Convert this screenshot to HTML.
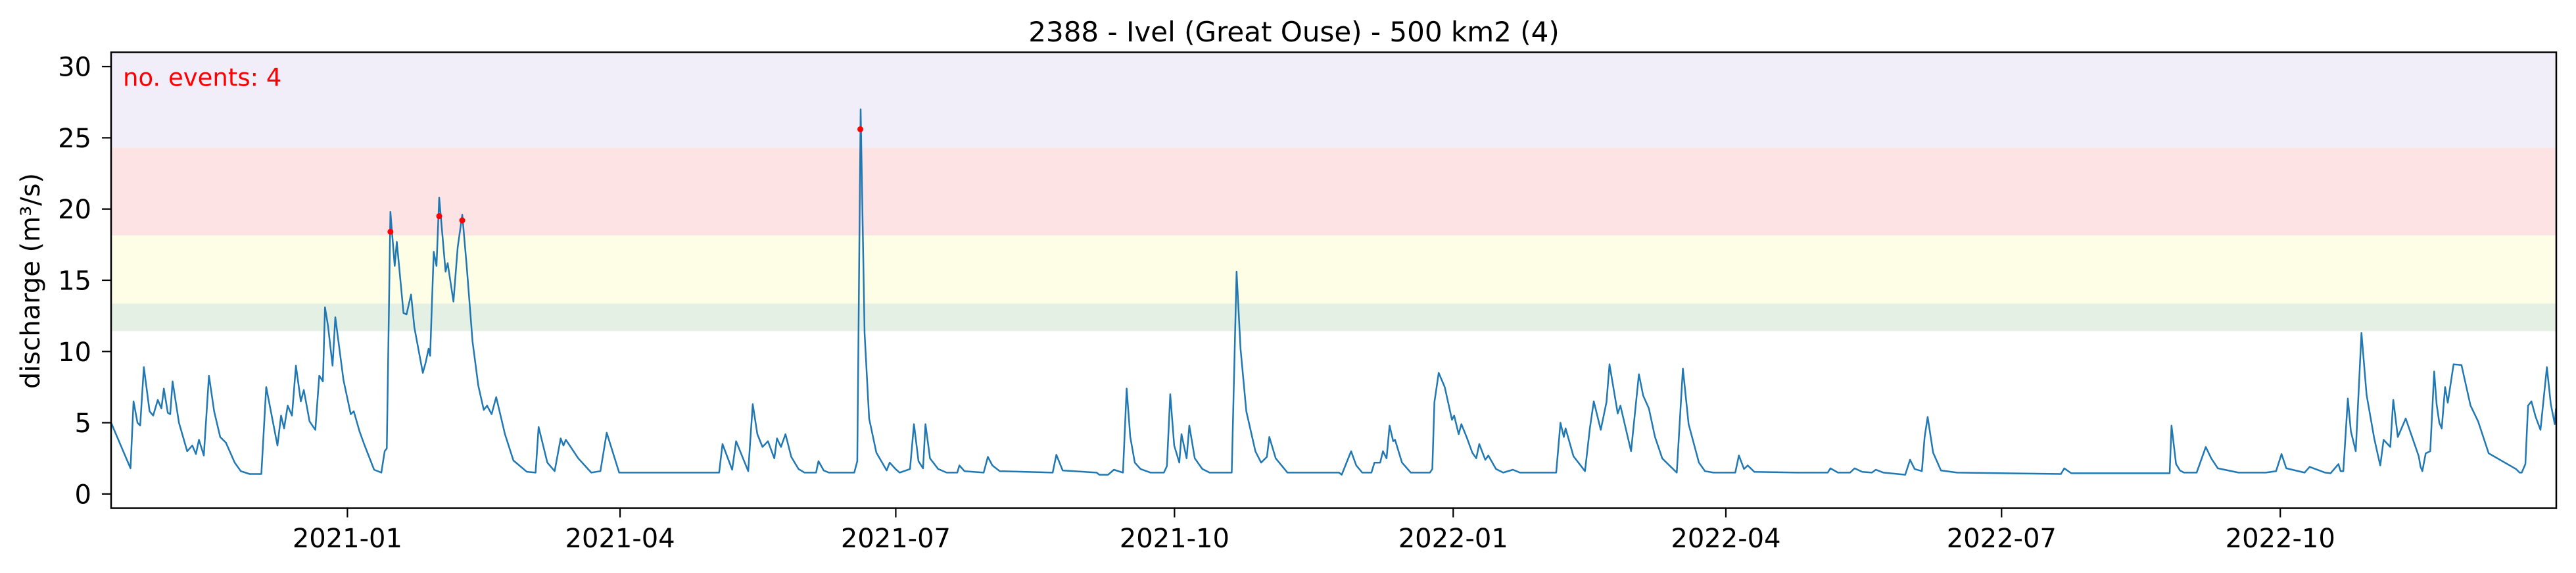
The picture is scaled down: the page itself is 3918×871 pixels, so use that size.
<!DOCTYPE html>
<html><head><meta charset="utf-8"><title>2388 - Ivel discharge</title>
<style>
html,body{margin:0;padding:0;background:#fff;}
svg{display:block;font-family:"DejaVu Sans","Liberation Sans",sans-serif;}
</style></head>
<body>
<svg id="chart" width="3918" height="871" viewBox="0 0 3918 871" xmlns="http://www.w3.org/2000/svg">
<text x="1968" y="63" font-size="42" text-anchor="middle" fill="#000">2388 - Ivel (Great Ouse) - 500 km2 (4)</text>
<g id="bands"></g>
<g id="series"></g>
<g id="events"></g>
<rect x="169" y="79.5" width="3719" height="693" fill="none" stroke="#000" stroke-width="2.5"/>
<g id="yaxis"></g>
<g id="xaxis"></g>
<text x="187" y="130.5" font-size="37" fill="#ff0000">no. events: 4</text>
<text transform="translate(60,427) rotate(-90)" font-size="40" text-anchor="middle" fill="#000">discharge (m³/s)</text>
</svg>
<script>
// Days since 2020-10-15 and discharge values (m3/s)
const days = [0,6.4,7.4,8.7,9.6,10.8,12.7,13.9,15.4,16.6,17.4,18.7,19.5,20.3,22.4,25.1,26.8,28,29,30.6,32.3,34,36,37.9,40.8,42.8,45.7,49.6,51.2,54.9,56.1,57.1,58.3,59.7,61,62.6,63.6,65.5,67.4,68.7,69.9,70.6,71.6,73.1,74,76.7,79.1,80.1,82,83.5,86.8,89.2,90.3,91,92.2,93.6,94.3,96.5,97.5,99,100.1,102.9,103.8,104.8,105.3,106.5,107.4,108.3,110.4,111.1,113,114.4,115.9,117.4,119.3,121.2,123,124.1,125.6,127.1,130,132.8,137.2,140.1,141.1,144,146.4,148.4,149.3,150.1,151.7,154.2,158.5,161.5,163.6,167.7,200.7,201.8,205,206.3,210.3,211.8,213.3,215,216.8,218.9,219.8,221.1,222.6,224.5,226.9,228.9,232.7,233.5,235.2,236.9,245.3,246.3,247.4,248.7,250.2,252.6,256,257,258.9,260.3,263.7,265,266.5,268,268.8,270.3,273,275.8,279.3,280,281.7,288,289.4,290.9,293.3,310.8,312,314.1,325.3,326.2,329.1,331,334,335.2,336.4,337.9,339.8,343.1,347.5,348.5,349.6,350.9,352.6,353.3,355,355.9,357.7,360.2,362.6,369.9,371.5,372.8,374.7,377.7,379.6,381.5,382.3,384.4,388.3,405.3,406.2,409.3,411,413,416,417,418.9,419.8,421,422,423.2,423.8,426.1,429,435.3,436.1,436.8,438.2,440.2,442.6,443.3,444.8,445.7,447.4,449.3,450.6,451.6,453.6,454.6,457.1,459.5,462.7,465,477,478.4,479.5,480.1,482.7,486.5,488.1,489.4,491.7,493.6,494.6,497.3,498.2,501.7,504.3,505.7,507.6,509.6,512,513.4,516.8,518.8,520.7,524.1,526.1,528.9,536.1,537.3,539,540.2,542.4,556.5,566.6,567.5,570,574,575.5,578,581.2,582.5,585,592.2,593.8,595.3,597.7,598.6,599.6,601.4,604,609.3,643.6,644.7,647,679.5,680.1,681.6,682.9,684.2,688.4,691.4,693.2,695.4,702.2,711.2,714.6,716.4,718,724,725.7,730.8,732.6,735.2,735.9,736.8,738.3,739.3,740.9,742.8,744.5,747,748.3,749,750.1,752.3,753.3,754.8,757.4,759.5,761.7,762.3,762.9,764,765.5,766.8,767.6,768.5,769.3,770.4,771.3,773.2,775.8,778.8,781.3,784.8,793.8,795,795.7,796.9,797.8,798.9,800.3,801.9,804,805.3,806.6,807];
const values = [5.0,1.8,6.5,5.0,4.8,8.9,5.8,5.5,6.6,6.0,7.4,5.7,5.6,7.9,5.0,3.0,3.4,2.8,3.8,2.7,8.3,5.8,4.0,3.6,2.2,1.6,1.4,1.4,7.5,3.4,5.5,4.6,6.2,5.5,9.0,6.5,7.3,5.1,4.5,8.3,7.9,13.1,11.8,9.0,12.4,8.0,5.6,5.8,4.4,3.5,1.7,1.5,3.0,3.2,19.8,16.0,17.7,12.7,12.6,14.0,11.7,8.5,9.2,10.2,9.7,17.0,16.0,20.8,15.6,16.2,13.5,17.3,19.6,15.9,10.7,7.6,5.9,6.2,5.6,6.8,4.2,2.35,1.56,1.5,4.7,2.2,1.6,3.9,3.4,3.8,3.3,2.5,1.5,1.6,4.3,1.5,1.5,3.5,1.7,3.7,1.6,6.3,4.2,3.3,3.7,2.5,3.9,3.3,4.2,2.6,1.75,1.5,1.5,2.3,1.65,1.5,1.5,2.3,27.0,11.3,5.3,2.9,1.65,2.2,1.75,1.5,1.75,4.9,2.3,1.8,4.9,2.5,1.75,1.5,1.5,2.0,1.6,1.5,2.6,2.0,1.6,1.5,2.75,1.65,1.5,1.35,1.35,1.7,1.5,7.4,4.0,2.2,1.75,1.5,1.5,1.95,7.0,3.4,2.2,4.2,2.5,4.8,2.5,1.75,1.5,1.5,15.6,10.2,5.8,3.0,2.2,2.6,4.0,2.5,1.5,1.5,1.35,3.0,2.0,1.5,1.5,2.2,2.2,3.0,2.5,4.8,3.7,3.8,2.2,1.5,1.5,1.75,6.45,8.5,7.5,5.2,5.5,4.2,4.9,4.0,2.9,2.5,3.5,2.4,2.7,1.75,1.5,1.7,1.5,1.5,5.0,4.0,4.6,2.65,1.6,4.6,6.5,4.5,6.45,9.1,5.65,6.2,3.0,8.4,6.9,6.0,4.0,2.5,2.2,1.5,8.8,4.9,2.2,1.6,1.5,1.5,2.7,1.75,2.0,1.55,1.5,1.5,1.8,1.5,1.5,1.8,1.55,1.5,1.7,1.5,1.35,2.4,1.75,1.6,4.0,5.4,2.9,1.65,1.5,1.4,1.8,1.45,1.45,4.8,2.1,1.65,1.5,1.5,3.3,2.5,1.8,1.5,1.5,1.6,2.8,1.8,1.5,1.9,1.5,1.45,2.1,1.6,1.6,6.7,4.4,3.0,11.3,6.95,3.9,2.65,2.0,3.8,3.3,6.6,4.0,5.3,4.0,2.65,1.9,1.6,2.85,3.0,8.6,6.3,5.0,4.6,7.5,6.4,9.1,9.05,6.2,5.1,2.85,1.75,1.5,1.5,2.1,6.2,6.5,5.4,4.5,8.9,6.3,4.9,6.0,4.85,4.9];
const eventDays = [92.2,108.3,115.9,247.3];
const eventValues = [18.4,19.5,19.2,25.6];
const bandLows = [11.43,13.36,18.15,24.3];
const bandHighs = [13.36,18.15,24.3,31];
const bandColors = ['#e5f0e4','#fefee6','#fee3e5','#f1eef9'];
const bandNames = ['band-green','band-yellow','band-red','band-purple'];
const yTicks = [0,5,10,15,20,25,30];
const xTickDays = [78,168,259,351,443,533,624,716];
const xTickLabels = ['2021-01','2021-04','2021-07','2021-10','2022-01','2022-04','2022-07','2022-10'];

const L=169,R=3888,T=79.5,B=772.5;
const XMIN=0,XMAX=807.1,YMIN=-1.0,YMAX=31.0;
function sx(d){return L+(d-XMIN)/(XMAX-XMIN)*(R-L);}
function sy(v){return B-(v-YMIN)/(YMAX-YMIN)*(B-T);}
const NS='http://www.w3.org/2000/svg';
function mk(tag,attrs,parent){const e=document.createElementNS(NS,tag);for(const k in attrs)e.setAttribute(k,attrs[k]);parent.appendChild(e);return e;}

const bands=document.getElementById('bands');
for(let i=0;i<bandLows.length;i++){
  const top=Math.max(sy(bandHighs[i]),T);
  const r=mk('rect',{x:L,y:top,width:R-L,height:sy(bandLows[i])-top,fill:bandColors[i]},bands);
  
  
}

const series=document.getElementById('series');
let d='';
for(let i=0;i<days.length;i++){d+=(i?'L':'M')+sx(days[i]).toFixed(1)+','+sy(values[i]).toFixed(1);}
const p=mk('path',{d:d,fill:'none',stroke:'#1f77b4','stroke-width':2.5,'stroke-linejoin':'round'},series);



const ev=document.getElementById('events');
for(let i=0;i<eventDays.length;i++){
  const c=mk('circle',{cx:sx(eventDays[i]),cy:sy(eventValues[i]),r:4.5,fill:'#ff0000'},ev);
  
  
}

const ya=document.getElementById('yaxis');
for(const t of yTicks){
  const y=sy(t);
  const ln=mk('line',{x1:L-14,x2:L,y1:y,y2:y,stroke:'#000','stroke-width':2.2},ya);
  
  
  const tx=mk('text',{x:L-30,y:y+14.5,'font-size':40,'text-anchor':'end',fill:'#000'},ya);
  tx.textContent=t;
  
  
}
const xa=document.getElementById('xaxis');
for(let i=0;i<xTickDays.length;i++){
  const x=sx(xTickDays[i]);
  const ln=mk('line',{x1:x,x2:x,y1:B,y2:B+14,stroke:'#000','stroke-width':2.2},xa);
  
  
  const tx=mk('text',{x:x,y:832,'font-size':40,'text-anchor':'middle',fill:'#000'},xa);
  tx.textContent=xTickLabels[i];
  
  
}
</script>
</body></html>
